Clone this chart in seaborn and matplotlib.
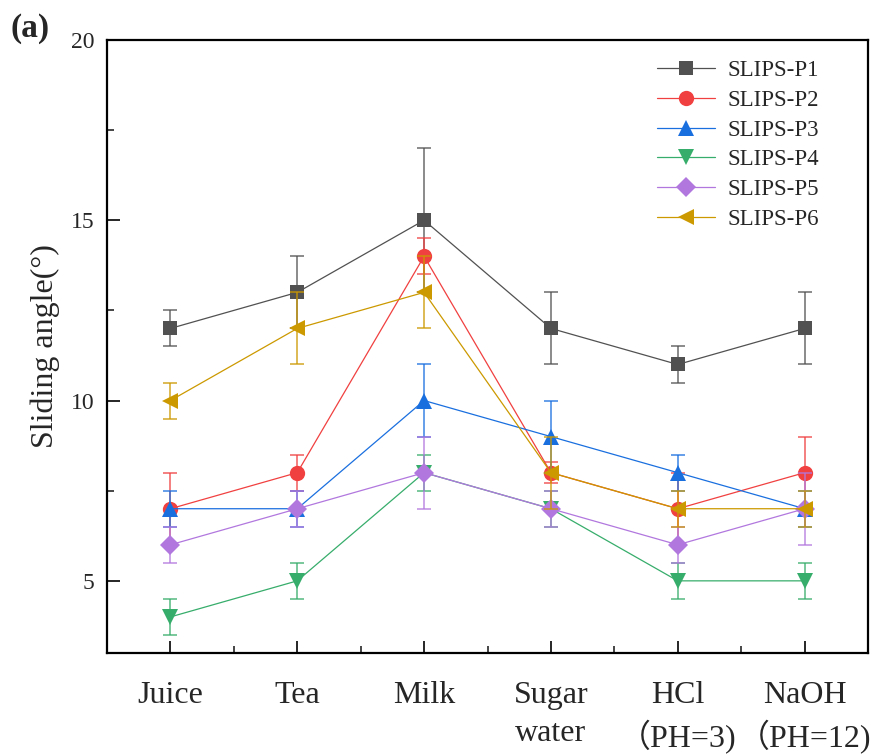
import numpy as np
import pandas as pd
import matplotlib
matplotlib.use("Agg")
import matplotlib.pyplot as plt
from matplotlib.ticker import MultipleLocator, FixedLocator
import seaborn as sns

# ---------------- data ----------------
categories = ["Juice", "Tea", "Milk", "Sugar\nwater", "HCl\n\uff08PH=3)", "NaOH\n\uff08PH=12)"]
series_names = ["SLIPS-P1", "SLIPS-P2", "SLIPS-P3", "SLIPS-P4", "SLIPS-P5", "SLIPS-P6"]

p1 = [12, 13, 15, 12, 11, 12]
p1_err = [0.5, 1, 2, 1, 0.5, 1]
p2 = [7, 8, 14, 8, 7, 8]
p2_err = [1, 0.5, 0.5, 0.3, 1, 1]
p3 = [7, 7, 10, 9, 8, 7]
p3_err = [0.5, 0.5, 1, 1, 0.5, 0.5]
p4 = [4, 5, 8, 7, 5, 5]
p4_err = [0.5, 0.5, 0.5, 0.5, 0.5, 0.5]
p5 = [6, 7, 8, 7, 6, 7]
p5_err = [0.5, 0.5, 1, 0.5, 0.5, 1]
p6 = [10, 12, 13, 8, 7, 7]
p6_err = [0.5, 1, 1, 1, 0.5, 0.5]

values = [p1, p2, p3, p4, p5, p6]
errors = [p1_err, p2_err, p3_err, p4_err, p5_err, p6_err]

colors = ["#515151", "#F14040", "#1A6FDF", "#37AD6B", "#B177DE", "#CC9900"]
markers = ["s", "o", "^", "v", "D", "<"]
msizes = [10, 11, 11, 11, 10, 11]

# ---------------- style ----------------
sns.set_style("ticks")
plt.rcParams["font.family"] = ["Liberation Serif", "Noto Sans CJK TC", "DejaVu Sans"]

fig = plt.figure(figsize=(8.8, 7.54), dpi=100)
ax = fig.add_axes([0.1216, 0.134, 0.8648, 0.813])

xpos = np.arange(len(categories))

for name, vals, errs, c, m, ms in zip(series_names, values, errors, colors, markers, msizes):
    df = pd.DataFrame({"x": xpos, "y": vals})
    sns.lineplot(data=df, x="x", y="y", ax=ax, color=c, marker=m, markersize=ms,
                 markeredgecolor=c, markeredgewidth=0, linewidth=0.9, label=name,
                 sort=False, errorbar=None)
    ax.errorbar(xpos, vals, yerr=errs, fmt="none", ecolor=c, elinewidth=1.1,
                capsize=5, capthick=1.1, alpha=0.85)

ax.set_xlim(-0.5, 5.5)
ax.set_ylim(3, 20)
ax.yaxis.set_major_locator(FixedLocator([5, 10, 15, 20]))
ax.yaxis.set_minor_locator(MultipleLocator(2.5))
ax.set_xticks(xpos)
ax.set_xticklabels(categories, fontsize=23, linespacing=1.4,
                   family=["Liberation Serif", "Noto Sans CJK TC"])
ax.xaxis.set_minor_locator(FixedLocator(xpos[:-1] + 0.5))

for lab in ax.get_yticklabels():
    lab.set_fontsize(17)

ax.tick_params(axis="both", which="major", direction="in", length=9, width=1.4,
               top=False, right=False)
ax.tick_params(axis="both", which="minor", direction="in", length=5, width=1.2,
               top=False, right=False)
ax.tick_params(axis="x", which="major", pad=20)
ax.tick_params(axis="y", which="major", pad=9)

for sp in ax.spines.values():
    sp.set_linewidth(1.6)
    sp.set_color("black")

ax.set_xlabel("")
ax.set_ylabel("Sliding angle(\u00b0)", fontsize=23, labelpad=8)

leg = ax.legend(loc="upper left", bbox_to_anchor=(0.723, 0.967), frameon=False,
                fontsize=16.5, handlelength=2.5, handletextpad=0.55,
                labelspacing=0.38, borderaxespad=0, borderpad=0)

fig.text(0.012, 0.962, "(a)", fontsize=24, fontweight="bold", ha="left", va="center")

fig.savefig("out.png", dpi=100)
